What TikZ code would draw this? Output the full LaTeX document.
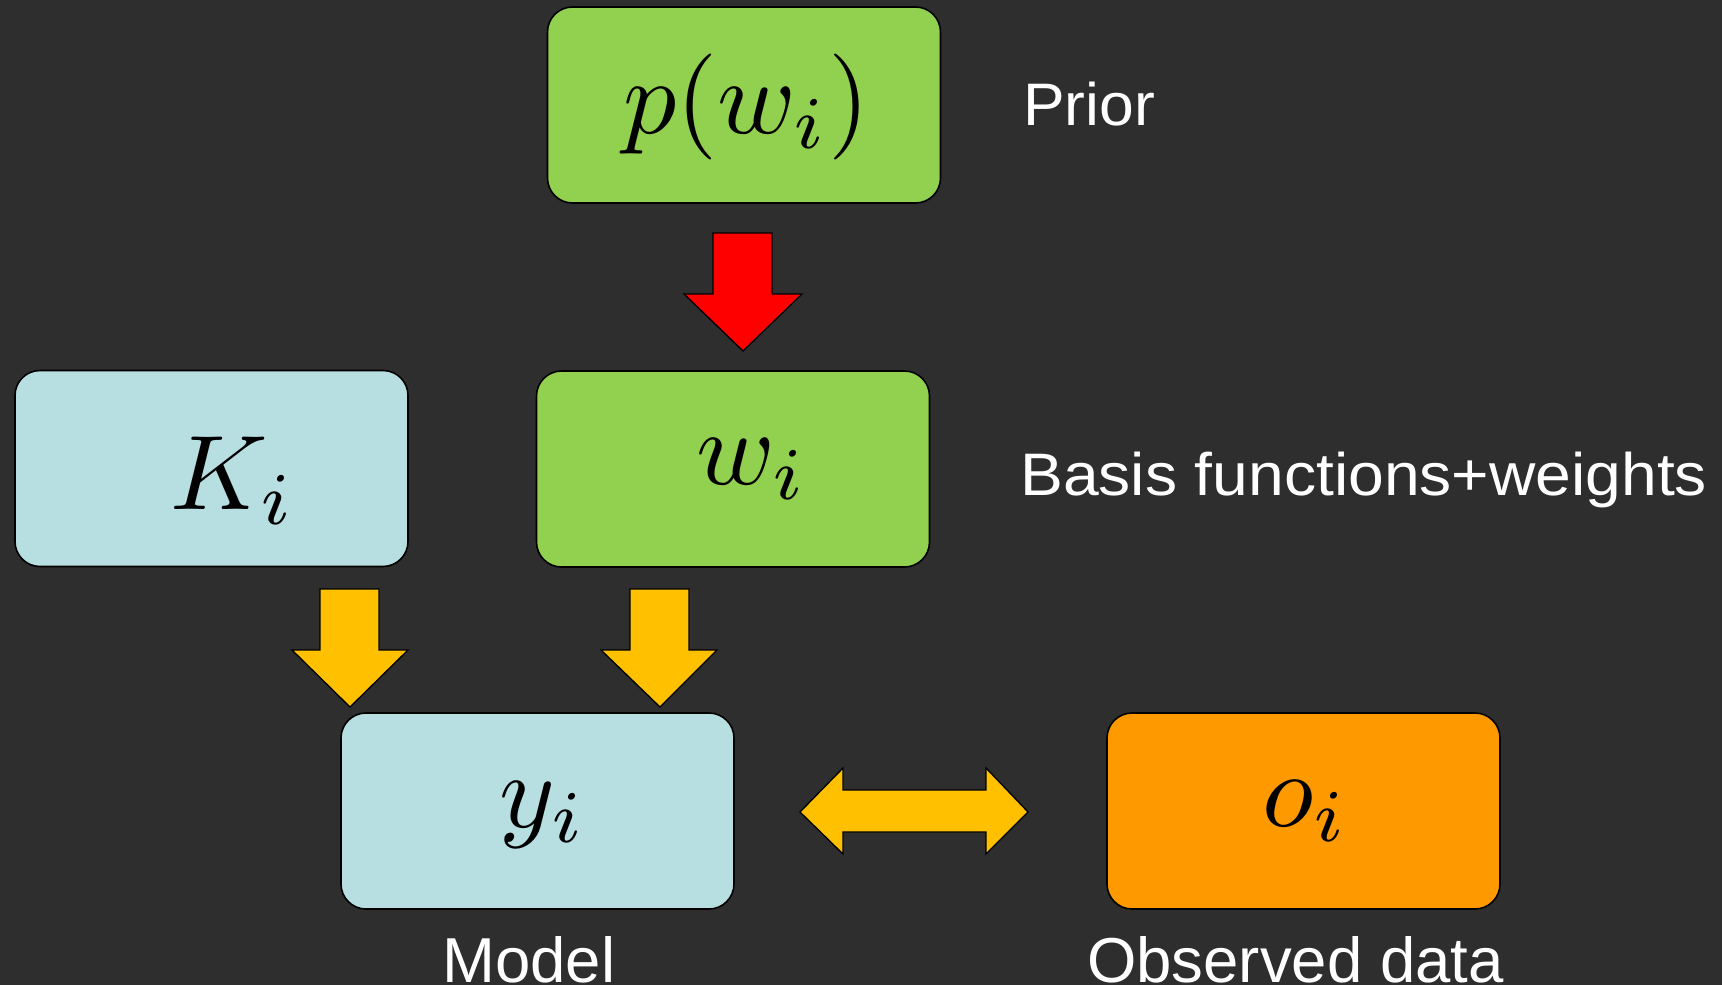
\documentclass[tikz,border=0pt]{standalone}
\usepackage{fontspec}
\usepackage{graphicx}
\newfontfamily\arial{Liberation Sans}
\definecolor{board}{RGB}{46,46,46}
\definecolor{boxgreen}{RGB}{146,208,80}
\definecolor{boxblue}{RGB}{183,223,226}
\definecolor{boxorange}{RGB}{255,153,0}
\definecolor{arryellow}{RGB}{255,192,0}
\definecolor{arrred}{RGB}{255,0,0}
\begin{document}
\begin{tikzpicture}[x=1pt,y=-1pt,
  box/.style={draw=black, line width=1.6pt, rounded corners=25pt, minimum width=393pt, minimum height=196pt, inner sep=0pt},
  barrow/.style={draw=black, line width=1.3pt, line join=miter},
  mathlbl/.style={anchor=base west, inner sep=0pt, text=black},
  caption/.style={anchor=base west, inner sep=0pt, text=white, font=\arial\fontsize{60}{72}\selectfont},
  bigcaption/.style={caption, font=\arial\fontsize{63.5}{76}\selectfont}]
\fill[board] (0,0) rectangle (1722,985);
\useasboundingbox (0,0) rectangle (1722,985);

% boxes
\node[box, fill=boxgreen] (prior) at (744,105) {};
\node[box, fill=boxblue] (K) at (211.5,468.5) {};
\node[box, fill=boxgreen] (w) at (733,469) {};
\node[box, fill=boxblue] (y) at (537.5,811) {};
\node[box, fill=boxorange] (o) at (1303.5,811) {};

% math labels
\node[mathlbl] (priortext) at (623,133) {\scalebox{10.6}{$p(w_i)$}};
\node[mathlbl] (Ktext) at (170,509) {\scalebox{10.6}{$K_i$}};
\node[mathlbl] (wtext) at (696,484) {\scalebox{10.6}{$w_i$}};
\node[mathlbl] (ytext) at (499,827) {\scalebox{10.6}{$y_i$}};
\node[mathlbl] (otext) at (1262,826) {\scalebox{10.6}{$o_i$}};

% block arrows
\draw[barrow, fill=arrred] (713,233) -- (772,233) -- (772,294) -- (802,294) -- (743,351) -- (684,294) -- (713,294) -- cycle;
\draw[barrow, fill=arryellow] (320,589) -- (379,589) -- (379,650) -- (408,650) -- (350,707) -- (292,650) -- (320,650) -- cycle;
\draw[barrow, fill=arryellow] (630,589) -- (689,589) -- (689,650) -- (717,650) -- (660,707) -- (601,650) -- (630,650) -- cycle;
\draw[barrow, fill=arryellow] (800,812) -- (843,768) -- (843,790) -- (986,790) -- (986,768) -- (1028,812) -- (986,854) -- (986,832) -- (843,832) -- (843,854) -- cycle;

% captions
\node[caption] (priorlbl) at (1023,125) {\scalebox{1.04}[1]{Prior}};
\node[caption] (basislbl) at (1020,495) {\scalebox{1.07}[1]{Basis functions+weights}};
\node[bigcaption] (modellbl) at (442,982) {Model};
\node[bigcaption] (obslbl) at (1087,982) {Observed data};
\end{tikzpicture}
\end{document}
